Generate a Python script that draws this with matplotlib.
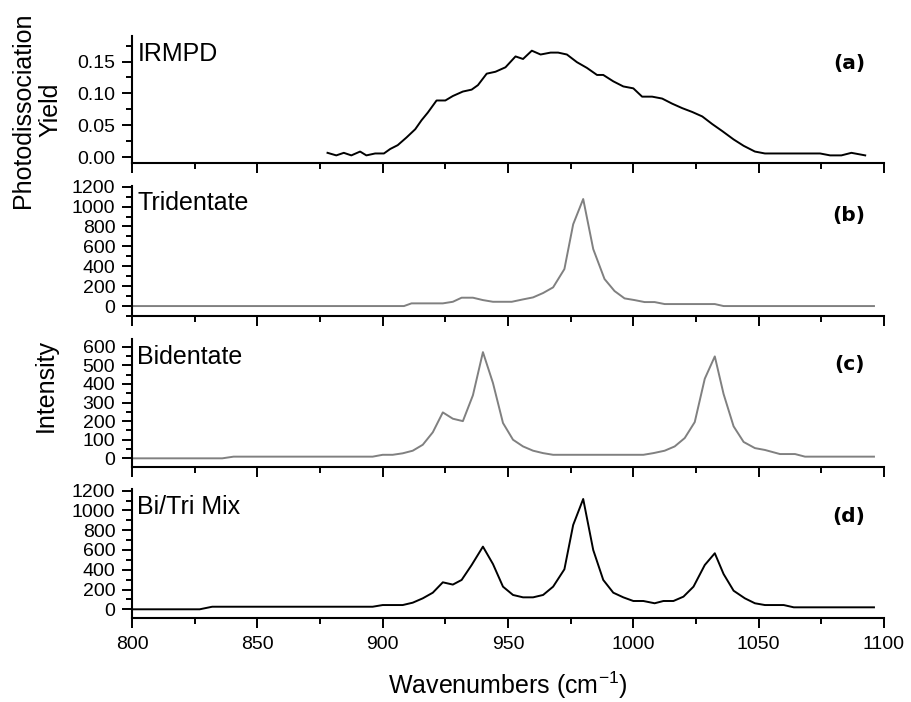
import matplotlib
matplotlib.use('Agg')
import matplotlib.pyplot as plt
from matplotlib.ticker import MultipleLocator, FormatStrFormatter

plt.rcParams['font.family'] = ['Liberation Sans', 'DejaVu Sans']
plt.rcParams['mathtext.default'] = 'regular'

W, H = 911, 702

# (a) IRMPD photodissociation yield
irmpd_wn = [878, 881.5, 884.5, 887.5, 891, 893.5, 897, 900.5, 903, 906,
            909.5, 913, 915.5, 918, 921.5, 925, 928, 932, 935.5, 938,
            941.5, 945, 949, 953, 956, 959.5, 963, 967, 970, 973.5,
            977.5, 981.5, 985.5, 988, 992, 996, 1000, 1003.5, 1007.5, 1011.5,
            1015.5, 1019.5, 1023.5, 1027.5, 1031.5, 1035.5, 1040, 1044, 1048.5, 1052.5,
            1057, 1062, 1067, 1071, 1074.5, 1078.5, 1083, 1087, 1092.5]
irmpd_yield = [0.007, 0.003, 0.007, 0.003, 0.009, 0.003, 0.006, 0.006, 0.013, 0.019,
               0.031, 0.044, 0.058, 0.070, 0.089, 0.089, 0.096, 0.103, 0.106, 0.113,
               0.131, 0.134, 0.141, 0.158, 0.154, 0.167, 0.161, 0.164, 0.164, 0.161,
               0.149, 0.140, 0.129, 0.129, 0.119, 0.111, 0.108, 0.095, 0.095, 0.092,
               0.084, 0.077, 0.071, 0.064, 0.052, 0.041, 0.028, 0.018, 0.009, 0.006,
               0.006, 0.006, 0.006, 0.006, 0.006, 0.003, 0.003, 0.007, 0.003]

# (b) tridentate
tri_wn = [800, 908.5, 911.5, 924, 928, 931.5, 936, 940, 944, 951.5,
          956, 960, 964, 968, 972.5, 976, 980, 984, 988.5, 992.5,
          996.5, 1000.5, 1004.5, 1008.5, 1012.5, 1032.5, 1036, 1096]
tri_int = [0, 0, 27, 27, 43, 84, 84, 60, 43, 43,
           67, 87, 131, 188, 372, 822, 1076, 573, 272, 151,
           77, 60, 40, 40, 20, 20, 0, 0]

# (c) bidentate
bi_wn = [800, 836, 840.5, 896, 900, 904, 908, 912, 916, 920,
         924, 928, 932, 936, 940, 944, 948, 952, 956, 960,
         964, 968, 1004, 1008, 1012.5, 1016.5, 1020.5, 1024.5, 1028.5, 1032.5,
         1036, 1040, 1044, 1048.5, 1052.5, 1058.5, 1064.5, 1068.5, 1096]
bi_int = [0, 0, 9, 9, 19, 19, 27, 41, 73, 140,
          247, 213, 200, 339, 571, 405, 190, 100, 64, 41,
          28, 19, 19, 28, 41, 64, 109, 195, 428, 548,
          346, 172, 88, 55, 45, 23, 23, 9, 9]

# (d) bi/tri mix
mix_wn = [800, 827, 832, 896, 900, 908, 912, 916, 920, 924,
          928, 931.5, 935.5, 940, 944, 948, 952, 956, 960, 964,
          968, 972.5, 976, 980, 984, 988, 992, 996, 1000, 1004,
          1008.5, 1012, 1016, 1020, 1024, 1028.5, 1032.5, 1036, 1040, 1044.5,
          1048.5, 1052.5, 1060, 1064, 1096]
mix_int = [0, 0, 26, 26, 43, 43, 67, 111, 168, 273,
           250, 297, 448, 634, 458, 229, 145, 121, 121, 145,
           229, 405, 853, 1116, 600, 297, 168, 121, 84, 84,
           61, 84, 84, 128, 229, 448, 567, 357, 188, 111,
           61, 43, 43, 20, 20]

names = ['IRMPD', 'Tridentate', 'Bidentate', 'Bi/Tri Mix']
letters = ['(a)', '(b)', '(c)', '(d)']

fig = plt.figure(figsize=(W / 100, H / 100), dpi=100)

# panel rects in pixels: (top, bottom)
rows = [(36, 163.3), (185.5, 316), (339.3, 466.7), (489.3, 617.7)]
ylims = [(-0.0094, 0.19), (-100, 1212), (-45, 640), (-85, 1214)]
ymajor = [0.05, 200, 100, 200]
yminor = [0.025, 100, 50, 100]
letter_y = [0.787, 0.771, 0.806, 0.791]
series = [(irmpd_wn, irmpd_yield, 'black'), (tri_wn, tri_int, '#808080'),
          (bi_wn, bi_int, '#808080'), (mix_wn, mix_int, 'black')]

x0, x1 = 132, 884
for i, (top, bot) in enumerate(rows):
    ax = fig.add_axes([x0 / W, 1 - bot / H, (x1 - x0) / W, (bot - top) / H])
    wn, val, col = series[i]
    ax.plot(wn, val, color=col, lw=1.4)
    ax.set_xlim(800, 1100)
    ax.set_ylim(*ylims[i])
    ax.spines['top'].set_visible(False)
    ax.spines['right'].set_visible(False)
    ax.spines['left'].set_linewidth(1.5)
    ax.spines['bottom'].set_linewidth(1.5)
    ax.xaxis.set_major_locator(MultipleLocator(50))
    ax.xaxis.set_minor_locator(MultipleLocator(25))
    ax.yaxis.set_major_locator(MultipleLocator(ymajor[i]))
    ax.yaxis.set_minor_locator(MultipleLocator(yminor[i]))
    if i == 0:
        ax.yaxis.set_major_formatter(FormatStrFormatter('%.2f'))
    ax.tick_params(which='major', direction='out', length=7, width=1.4, labelsize=14, pad=5)
    ax.tick_params(which='minor', direction='out', length=4.5, width=1.4)
    ax.tick_params(axis='x', which='major', length=7.5, pad=6)
    if i < 3:
        ax.tick_params(axis='x', labelbottom=False)
    ax.text(0.007, 0.955, names[i], transform=ax.transAxes, ha='left', va='top', fontsize=18)
    ax.text(0.975, letter_y[i], letters[i], transform=ax.transAxes, ha='right', va='center',
            fontsize=14.5, fontweight='bold', family='DejaVu Sans')

fig.text(37 / W, 1 - 110 / H, 'Photodissociation\nYield', rotation=90, ha='center', va='center',
         multialignment='center', fontsize=18)
fig.text(46 / W, 1 - 386 / H, 'Intensity', rotation=90, ha='center', va='center', fontsize=18)
fig.text(508 / W, 1 - 685 / H, 'Wavenumbers (cm$^{-1}$)', ha='center', va='center', fontsize=18)

fig.savefig('out.png', dpi=100)
